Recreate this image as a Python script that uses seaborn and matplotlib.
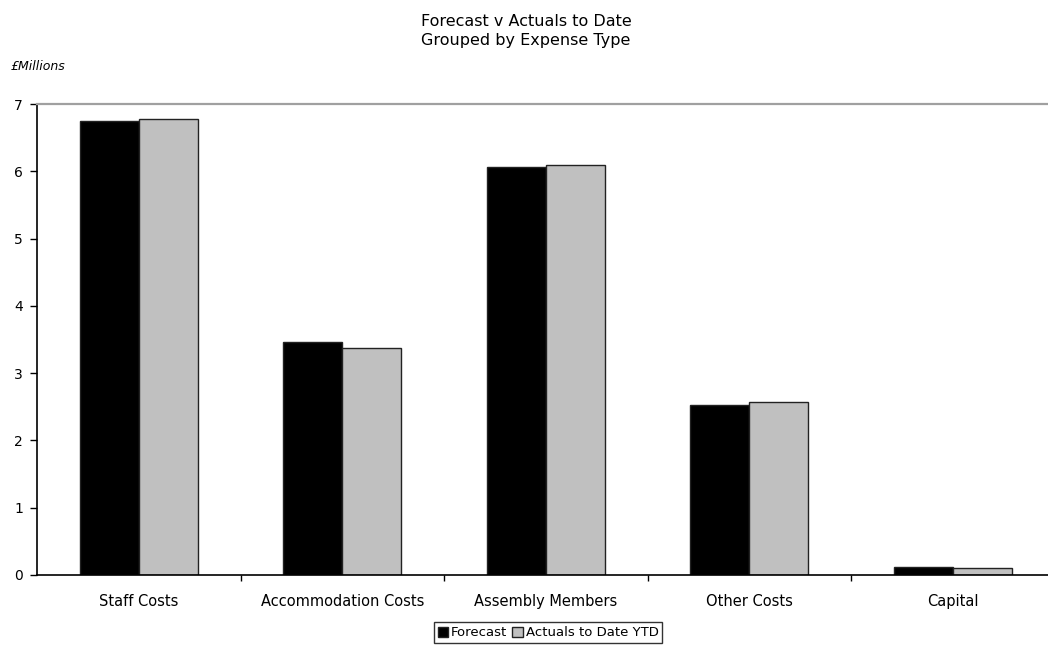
import matplotlib
matplotlib.use("Agg")
import matplotlib.pyplot as plt
import seaborn as sns
import pandas as pd
from matplotlib.ticker import FixedLocator

categories = ["Staff Costs", "Accommodation Costs", "Assembly Members", "Other Costs", "Capital"]
forecast = [6.75, 3.47, 6.07, 2.53, 0.12]
actuals_ytd = [6.78, 3.37, 6.09, 2.57, 0.10]
series_names = ["Forecast", "Actuals to Date YTD"]
y_ticks = [0, 1, 2, 3, 4, 5, 6, 7]

df = pd.DataFrame({
    "Expense Type": categories * 2,
    "Series": [series_names[0]] * len(categories) + [series_names[1]] * len(categories),
    "Value": forecast + actuals_ytd,
})

sns.set_style("white")
plt.rcParams["font.family"] = ["DejaVu Sans"]
plt.rcParams["text.color"] = "black"
plt.rcParams["xtick.color"] = "black"
plt.rcParams["ytick.color"] = "black"
plt.rcParams["axes.labelcolor"] = "black"

fig = plt.figure(figsize=(10.48, 6.48), dpi=100)
ax = fig.add_axes([37 / 1048, 1 - 575 / 648, 5 * 203.5 / 1048, 471 / 648])

sns.barplot(
    data=df, x="Expense Type", y="Value", hue="Series",
    palette=["#000000", "#c0c0c0"], width=0.58, gap=0,
    edgecolor="#222222", linewidth=1.0, saturation=1, ax=ax,
    legend=False,
)

ax.set_xlim(-0.5, 4.5)
ax.set_ylim(0, 7)
ax.set_yticks(y_ticks)
ax.set_xlabel("")
ax.set_ylabel("")

ax.spines["right"].set_visible(False)
ax.spines["top"].set_color("#a0a0a0")
ax.spines["top"].set_linewidth(1.6)
ax.spines["left"].set_color("black")
ax.spines["left"].set_linewidth(1.2)
ax.spines["bottom"].set_color("black")
ax.spines["bottom"].set_linewidth(1.2)

ax.tick_params(axis="y", which="major", direction="out", length=5, width=1,
               color="black", labelcolor="black", labelsize=10, pad=5, left=True)
ax.tick_params(axis="x", which="major", length=0, labelsize=10.5,
               labelcolor="black", pad=14)
ax.xaxis.set_minor_locator(FixedLocator([0.5, 1.5, 2.5, 3.5]))
ax.tick_params(axis="x", which="minor", direction="out", length=4, width=1,
               color="black", bottom=True)

fig.text(0.502, 0.978, "Forecast v Actuals to Date\nGrouped by Expense Type",
         ha="center", va="top", fontsize=11.5, linespacing=1.3, color="black")
fig.text(0.01, 0.898, "£Millions", ha="left", va="center",
         fontsize=9, style="italic", color="black")

handles = [
    plt.Rectangle((0, 0), 1, 1, facecolor="#000000", edgecolor="#222222", linewidth=1),
    plt.Rectangle((0, 0), 1, 1, facecolor="#c0c0c0", edgecolor="#222222", linewidth=1),
]
leg = fig.legend(handles, series_names, loc="center", bbox_to_anchor=(0.523, 0.0235),
                 ncol=2, fontsize=9.5, frameon=True, fancybox=False,
                 handlelength=0.8, handleheight=0.8, handletextpad=0.2,
                 columnspacing=0.4, borderpad=0.3, borderaxespad=0,
                 labelcolor="black")
leg.get_frame().set_edgecolor("black")
leg.get_frame().set_linewidth(1.0)

fig.savefig("out.png", dpi=100)
